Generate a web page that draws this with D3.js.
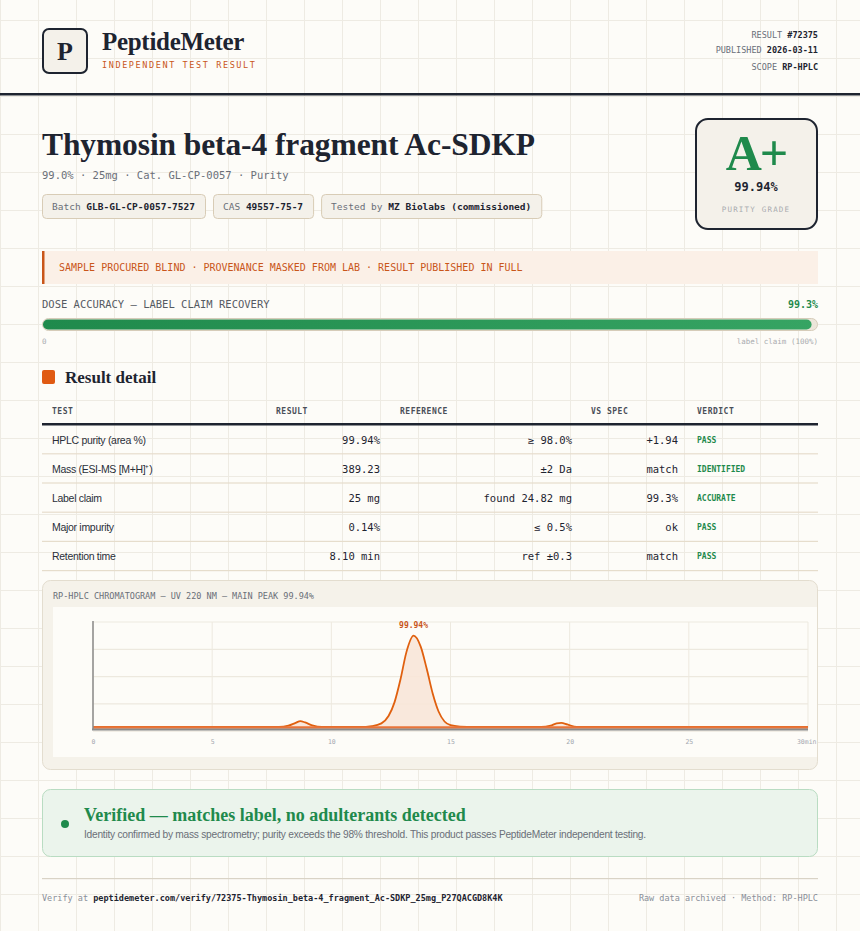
<!DOCTYPE html>
<html><head><meta charset="utf-8">
<script src="https://cdn.jsdelivr.net/npm/d3@7"></script>
<style>html,body{margin:0;padding:0;background:#fdfcf8}</style>
</head><body>
<script>
// ---- data ----
const meta = [["RESULT", "#72375"], ["PUBLISHED", "2026-03-11"], ["SCOPE", "RP-HPLC"]];
const chips = [["Batch", "GLB-GL-CP-0057-7527"], ["CAS", "49557-75-7"], ["Tested by", "MZ Biolabs (commissioned)"]];
const doseRecovery = 99.3;
const tableHeaders = ["TEST", "RESULT", "REFERENCE", "VS SPEC", "VERDICT"];
const tests = ["HPLC purity (area %)", "Mass (ESI-MS [M+H]⁺)", "Label claim", "Major impurity", "Retention time"];
const results = ["99.94%", "389.23", "25 mg", "0.14%", "8.10 min"];
const references = ["≥ 98.0%", "±2 Da", "found 24.82 mg", "≤ 0.5%", "ref ±0.3"];
const vsSpec = ["+1.94", "match", "99.3%", "ok", "match"];
const verdicts = ["PASS", "IDENTIFIED", "ACCURATE", "PASS", "PASS"];
const xTicks = [0, 5, 10, 15, 20, 25, 30];
const chromTime = [0, 5, 7.8, 8.2, 8.5, 8.7, 8.9, 9.2, 9.6, 11.2, 11.7, 12.1, 12.4, 12.65, 12.9, 13.15, 13.45, 13.75, 14, 14.25, 14.5, 14.75, 15, 15.4, 16, 18.8, 19.2, 19.45, 19.65, 19.9, 20.3, 25, 30];
const chromSignal = [0, 0, 0, 1.5, 4.5, 6.5, 5, 1.8, 0, 0, 1, 4, 12, 27, 52, 82, 100, 88, 64, 37, 17, 6, 2, 0.5, 0, 0, 1.5, 4, 4.5, 2.8, 0, 0, 0];
const peakLabel = "99.94%";

// ---- drawing ----
const W = 860, H = 931;
const svg = d3.select("body").append("svg").attr("width", W).attr("height", H);
const serif = "'Liberation Serif', 'Times New Roman', serif", mono = "'DejaVu Sans Mono', monospace", sans = "'Liberation Sans', Arial, sans-serif";
const dark = "#1e2430", orange = "#c9561a", green = "#1f8a4c";

svg.append("rect").attr("width", W).attr("height", H).attr("fill", "#fdfcf8");
const g = svg.append("g").attr("stroke", "#eeebe3").attr("stroke-width", 1);
d3.range(0, W, 38).forEach(x => g.append("line").attr("x1", x + .5).attr("x2", x + .5).attr("y1", 0).attr("y2", H));
d3.range(20, H, 38).forEach(y => g.append("line").attr("y1", y + .5).attr("y2", y + .5).attr("x1", 0).attr("x2", W));

function text(x, y, s, o = {}) {
  const t = svg.append("text").attr("x", x).attr("y", y).text(s)
    .attr("font-family", o.f || mono).attr("font-size", o.s || 10).attr("fill", o.c || dark)
    .attr("font-weight", o.w || "normal").attr("text-anchor", o.a || "start");
  if (o.ls) t.attr("letter-spacing", o.ls);
  return t;
}

// header
svg.append("rect").attr("x", 43).attr("y", 29).attr("width", 44).attr("height", 44).attr("rx", 6)
  .attr("fill", "#f4f1ea").attr("stroke", dark).attr("stroke-width", 2);
text(65, 60, "P", {f: serif, s: 26, w: "bold", a: "middle"});
text(102, 50, "PeptideMeter", {f: serif, s: 25, w: "bold", ls: -0.3});
text(102, 68, "INDEPENDENT TEST RESULT", {s: 8.5, c: orange, ls: 1.6});
meta.forEach((m, i) => {
  const t = text(818, 38 + i * 15 + (i == 2 ? 2 : 0), "", {s: 8.5, a: "end", c: "#6a6f78"});
  t.append("tspan").text(m[0] + " ");
  t.append("tspan").text(m[1]).attr("fill", dark).attr("font-weight", "bold");
});
svg.append("rect").attr("x", 0).attr("y", 93).attr("width", W).attr("height", 2.5).attr("fill", dark);

// title
text(42, 155, "Thymosin beta-4 fragment Ac-SDKP", {f: serif, s: 31.5, w: "bold", ls: -0.1});
text(42, 179, "99.0% · 25mg · Cat. GL-CP-0057 · Purity", {s: 10.5, c: "#6a6f78"});
let cx = 42;
chips.forEach(c => {
  const tmp = text(0, 0, c[0] + " " + c[1], {s: 9.5});
  const w = tmp.node().getComputedTextLength() + 20; tmp.remove();
  svg.append("rect").attr("x", cx + .5).attr("y", 194.5).attr("width", w).attr("height", 24).attr("rx", 4)
    .attr("fill", "#f4f1ea").attr("stroke", "#d8ccb6");
  const t = text(cx + 10, 210, "", {s: 9.5, c: "#6a6f78"});
  t.append("tspan").text(c[0] + " ");
  t.append("tspan").text(c[1]).attr("fill", dark).attr("font-weight", "bold");
  cx += w + 8;
});
// grade
svg.append("rect").attr("x", 696).attr("y", 119).attr("width", 121).attr("height", 110).attr("rx", 12)
  .attr("fill", "#f4f1ea").attr("stroke", dark).attr("stroke-width", 2);
text(756, 170, "A+", {f: serif, s: 50, w: "bold", c: green, a: "middle", ls: -2});
text(756, 191, "99.94%", {s: 12, w: "bold", a: "middle"});
text(756, 212, "PURITY GRADE", {s: 7.5, c: "#a9abaf", a: "middle", ls: 1.2});

// banner
svg.append("rect").attr("x", 42).attr("y", 251).attr("width", 776).attr("height", 33).attr("fill", "#fbf0e7");
svg.append("rect").attr("x", 42).attr("y", 251).attr("width", 2.5).attr("height", 33).attr("fill", orange);
text(59, 271, "SAMPLE PROCURED BLIND · PROVENANCE MASKED FROM LAB · RESULT PUBLISHED IN FULL", {s: 10, c: orange});

// dose bar
text(42, 308, "DOSE ACCURACY — LABEL CLAIM RECOVERY", {s: 10.5, c: "#555a62"});
text(818, 308, doseRecovery + "%", {s: 10, c: green, w: "bold", a: "end"});
const bx = d3.scaleLinear().domain([0, 100]).range([43, 817]);
const grad = svg.append("defs").append("linearGradient").attr("id", "gg");
grad.append("stop").attr("offset", 0).attr("stop-color", "#1f8a4c");
grad.append("stop").attr("offset", 1).attr("stop-color", "#36a463");
svg.append("rect").attr("x", 42.5).attr("y", 318.5).attr("width", 775).attr("height", 12).attr("rx", 6)
  .attr("fill", "#ece6da").attr("stroke", "#d6ccb9");
svg.append("rect").attr("x", bx(0)).attr("y", 319.5).attr("width", bx(doseRecovery) - bx(0)).attr("height", 10).attr("rx", 5).attr("fill", "url(#gg)");
text(42, 344, "0", {s: 7.5, c: "#a9abaf"});
text(818, 344, "label claim (100%)", {s: 7.5, c: "#a9abaf", a: "end"});

// result detail
svg.append("rect").attr("x", 42).attr("y", 370).attr("width", 13).attr("height", 14).attr("rx", 2).attr("fill", "#e05a12");
text(65, 383, "Result detail", {f: serif, s: 17, w: "bold"});
const hx = [52, 276, 400, 591, 697];
tableHeaders.forEach((h, i) => text(hx[i], 414, h, {s: 8, w: "bold", c: "#4a4f58", ls: 0.5}));
svg.append("rect").attr("x", 42).attr("y", 423).attr("width", 776).attr("height", 2.5).attr("fill", dark);
const rowY = d3.scaleBand().domain(d3.range(tests.length)).range([425, 571]);
tests.forEach((t, i) => {
  const y = rowY(i) + rowY.bandwidth() / 2 + 4;
  text(52, y, t, {f: sans, s: 10.5, c: "#2a2f38", ls: -0.3});
  text(380, y, results[i], {s: 10.5, a: "end"});
  text(572, y, references[i], {s: 10.5, a: "end"});
  text(678, y, vsSpec[i], {s: 10.5, a: "end"});
  text(697, y - 1, verdicts[i], {s: 8, w: "bold", c: green});
  svg.append("rect").attr("x", 42).attr("y", rowY(i) + rowY.bandwidth() - 1).attr("width", 776).attr("height", 1.2).attr("fill", "#e6ddcc");
});

// chromatogram card
svg.append("rect").attr("x", 42.5).attr("y", 580.5).attr("width", 775).attr("height", 189).attr("rx", 8)
  .attr("fill", "#f5f2ea").attr("stroke", "#e3ddcf");
text(53, 599, "RP-HPLC CHROMATOGRAM — UV 220 NM — MAIN PEAK 99.94%", {s: 8.5, c: "#6a6f78"});
svg.append("rect").attr("x", 53).attr("y", 607).attr("width", 764).attr("height", 150).attr("fill", "#fdfcf8");
const x = d3.scaleLinear().domain([0, 30]).range([93, 808]);
const y = d3.scaleLinear().domain([0, 115]).range([727, 622]);
const cg = svg.append("g");
xTicks.forEach(t => cg.append("line").attr("x1", x(t)).attr("x2", x(t)).attr("y1", 622).attr("y2", 728).attr("stroke", "#ede9df"));
[0, 1, 2, 3, 4].forEach(k => cg.append("line").attr("x1", 93).attr("x2", 808).attr("y1", 622 + k * 27.3).attr("y2", 622 + k * 27.3).attr("stroke", "#ede9df").attr("stroke-width", 1.2));
const pts = chromTime.map((t, i) => [t, chromSignal[i]]);
cg.append("path").datum(pts).attr("fill", "#f8e6d8").attr("opacity", 0.9)
  .attr("d", d3.area().x(d => x(d[0])).y0(y(0)).y1(d => y(d[1])).curve(d3.curveMonotoneX));
cg.append("path").datum(pts).attr("fill", "none").attr("stroke", "#e0600f").attr("stroke-width", 1.8)
  .attr("d", d3.line().x(d => x(d[0])).y(d => y(d[1])).curve(d3.curveMonotoneX));
cg.append("line").attr("x1", x(0)).attr("x2", x(30)).attr("y1", y(0) + 0.5).attr("y2", y(0) + 0.5).attr("stroke", "#e8743a").attr("stroke-width", 2.5);
cg.append("line").attr("x1", 93).attr("x2", 93).attr("y1", 621).attr("y2", 730).attr("stroke", "#8a8a8a").attr("stroke-width", 1.5);
cg.append("line").attr("x1", 92).attr("x2", 808).attr("y1", 729.5).attr("y2", 729.5).attr("stroke", "#8a8a8a").attr("stroke-width", 2);
const ax = cg.append("g").attr("transform", "translate(0,731)")
  .call(d3.axisBottom(x).tickValues(xTicks).tickSize(0).tickPadding(8).tickFormat(d => d == 30 ? "30min" : d));
ax.select(".domain").remove();
ax.selectAll("text").attr("font-family", mono).attr("font-size", 6.5).attr("fill", "#a4a8b0");
ax.selectAll(".tick").filter(d => d == 30).select("text").attr("text-anchor", "end").attr("dx", 8);
const peakI = d3.maxIndex(chromSignal);
text(x(chromTime[peakI]), y(chromSignal[peakI]) - 8, peakLabel, {s: 8, w: "bold", c: "#c9561a", a: "middle"});

// verified box
svg.append("rect").attr("x", 42.5).attr("y", 789.5).attr("width", 775).attr("height", 67).attr("rx", 8)
  .attr("fill", "#ebf4ec").attr("stroke", "#b9dcc2");
svg.append("circle").attr("cx", 65).attr("cy", 824).attr("r", 4).attr("fill", green);
text(84, 821, "Verified — matches label, no adulterants detected", {f: serif, s: 18, w: "bold", c: green});
text(84, 838, "Identity confirmed by mass spectrometry; purity exceeds the 98% threshold. This product passes PeptideMeter independent testing.", {f: sans, s: 10.2, c: "#6a6f78", ls: -0.25});

// footer
svg.append("rect").attr("x", 42).attr("y", 878).attr("width", 776).attr("height", 1.2).attr("fill", "#d9d3c6");
const ft = text(42, 901, "", {s: 8.5, c: "#8a8f98"});
ft.append("tspan").text("Verify at ");
ft.append("tspan").text("peptidemeter.com/verify/72375-Thymosin_beta-4_fragment_Ac-SDKP_25mg_P27QACGD8K4K").attr("fill", dark).attr("font-weight", "bold");
text(818, 901, "Raw data archived · Method: RP-HPLC", {s: 8.5, c: "#8a8f98", a: "end"});
</script>
</body></html>
